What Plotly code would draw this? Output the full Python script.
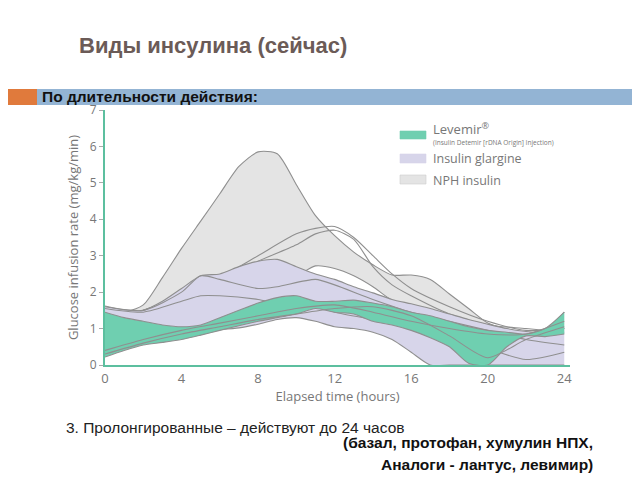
import plotly.graph_objects as go

# ---------------- data ----------------
hours = list(range(0, 25))

nph_upper = [1.40, 1.45, 1.65, 2.40, 3.20, 3.95, 4.70, 5.45, 5.85, 5.80, 4.95, 4.10, 3.55,
             3.10, 2.75, 2.47, 2.47, 2.35, 1.95, 1.55, 1.15, 0.98, 0.88, 0.95, 1.45]
nph_lower = [1.30, 1.35, 1.45, 1.60, 1.80, 2.00, 2.20, 2.35, 2.40, 2.40, 2.45, 2.72, 2.65,
             2.45, 2.15, 1.78, 1.65, 1.50, 1.35, 1.20, 1.05, 0.95, 0.85, 0.85, 1.00]

glargine_upper = [1.62, 1.52, 1.50, 1.75, 2.10, 2.45, 2.50, 2.70, 2.85, 2.90, 2.70, 2.50, 2.35,
                  2.15, 1.98, 1.80, 1.68, 1.55, 1.40, 1.25, 1.12, 1.00, 0.92, 0.90, 1.00]
glargine_lower = [0.50, 0.60, 0.70, 0.80, 0.88, 0.93, 0.97, 1.02, 1.12, 1.25, 1.30, 1.20, 1.05,
                  1.00, 0.90, 0.70, 0.35, 0.00, 0.00, 0.00, 0.00, 0.00, 0.00, 0.00, 0.00]

levemir_upper = [1.45, 1.30, 1.20, 1.10, 1.05, 1.10, 1.30, 1.50, 1.70, 1.85, 1.90, 1.75, 1.75,
                 1.78, 1.70, 1.60, 1.45, 1.35, 1.20, 1.05, 0.95, 0.90, 0.85, 1.00, 1.45]
levemir_lower = [0.22, 0.40, 0.55, 0.62, 0.70, 0.82, 0.95, 1.08, 1.20, 1.30, 1.40, 1.55, 1.45,
                 1.40, 1.20, 1.10, 0.95, 0.75, 0.50, 0.05, 0.00, 0.50, 0.80, 0.78, 0.85]

# individual subject curves inside the bands
nph_curve_h = [2, 4, 6, 8, 10, 11, 12, 13, 14, 15, 16, 18, 20, 22, 24]
nph_curve_1 = [1.5, 1.9, 2.4, 3.0, 3.6, 3.75, 3.8, 3.5, 3.0, 2.5, 2.1, 1.6, 1.2, 0.95, 1.0]
nph_curve_2 = [1.5, 1.85, 2.35, 2.85, 3.3, 3.6, 3.7, 3.45, 2.7, 2.2, 1.9, 1.4, 1.1, 1.0, 0.9]

gla_curve_h = [0, 2, 4, 5, 6, 8, 9, 11, 12, 14, 16, 18, 20, 22, 24]
gla_curve_1 = [1.6, 1.5, 2.0, 2.45, 2.35, 2.1, 2.15, 2.35, 2.2, 1.8, 1.45, 1.2, 0.95, 0.7, 0.55]
gla_curve_2 = [1.55, 1.45, 1.75, 1.9, 1.9, 1.8, 1.7, 1.6, 1.45, 1.25, 1.05, 0.8, 0.45, 0.15, 0.35]

lev_curve_h = [0, 2, 4, 6, 8, 10, 12, 14, 16, 18, 20, 22, 24]
lev_curve_1 = [0.40, 0.70, 0.95, 1.15, 1.35, 1.55, 1.65, 1.45, 1.20, 1.00, 0.85, 0.85, 1.20]
lev_curve_2 = [0.30, 0.60, 0.85, 1.05, 1.25, 1.40, 1.55, 1.60, 1.35, 0.80, 0.20, 0.70, 1.05]

x_ticks = [0, 4, 8, 12, 16, 20, 24]
y_ticks = [0, 1, 2, 3, 4, 5, 6, 7]

legend_labels = ["Levemir<sup>®</sup>", "Insulin glargine", "NPH insulin"]
legend_sub = "(Insulin Detemir [rDNA Origin] Injection)"

# ---------------- styles ----------------
C_NPH = "#e4e4e4"
C_GLA = "#d7d5ea"
C_LEV = "#6fcfb0"
C_LINE = "#8f8f8f"
C_AXIS = "#5cbf9f"
C_TXT = "#777777"

W, H = 640, 480
OFF = 8  # page body margin of the browser
ML, MT = 105 - OFF, 110 - OFF
MR, MB = W - (570 - OFF), H - (365 - OFF)
PW, PH = W - ML - MR, H - MT - MB


def px(xp):
    return (xp - OFF - ML) / PW


def py(yp):
    return (H - MB - (yp - OFF)) / PH


fig = go.Figure()

line_kw = dict(color=C_LINE, width=1.1, shape="spline", smoothing=0.7)


def band(lower, upper, color):
    fig.add_trace(go.Scatter(x=hours, y=lower, mode="lines", line=line_kw,
                             hoverinfo="skip", showlegend=False))
    fig.add_trace(go.Scatter(x=hours, y=upper, mode="lines", line=line_kw,
                             fill="tonexty", fillcolor=color,
                             hoverinfo="skip", showlegend=False))


def curve(xs, ys):
    fig.add_trace(go.Scatter(x=xs, y=ys, mode="lines", line=line_kw,
                             hoverinfo="skip", showlegend=False))


band(nph_lower, nph_upper, C_NPH)
curve(nph_curve_h, nph_curve_1)
curve(nph_curve_h, nph_curve_2)
band(glargine_lower, glargine_upper, C_GLA)
curve(gla_curve_h, gla_curve_1)
curve(gla_curve_h, gla_curve_2)
band(levemir_lower, levemir_upper, C_LEV)
curve(lev_curve_h, lev_curve_1)
curve(lev_curve_h, lev_curve_2)

fig.update_xaxes(range=[0, 24.3], tickvals=x_ticks, ticktext=[str(v) for v in x_ticks],
                 showgrid=False, zeroline=False, showline=True, linecolor=C_AXIS, linewidth=2,
                 ticks="", tickfont=dict(family="Open Sans", size=13, color=C_TXT),
                 title=dict(text="Elapsed time (hours)", standoff=3,
                            font=dict(family="Open Sans", size=13, color=C_TXT)))
fig.update_yaxes(range=[0, 7], tickvals=y_ticks, ticktext=[str(v) for v in y_ticks],
                 showgrid=False, zeroline=False, showline=True, linecolor=C_AXIS, linewidth=2,
                 ticks="outside", ticklen=4, tickcolor="#aaaaaa",
                 tickfont=dict(family="Open Sans", size=12, color=C_TXT),
                 title=dict(text="Glucose infusion rate (mg/kg/min)", standoff=8,
                            font=dict(family="Open Sans", size=13, color=C_TXT)))

shapes = [
    # header bar
    dict(type="rect", xref="paper", yref="paper", x0=px(0), x1=px(37), y0=py(105), y1=py(89),
         fillcolor="#e07a3c", line=dict(width=0), layer="above"),
    dict(type="rect", xref="paper", yref="paper", x0=px(37), x1=px(660), y0=py(105), y1=py(89),
         fillcolor="#93b4d4", line=dict(width=0), layer="above"),
]
sw_colors = [C_LEV, C_GLA, C_NPH]
sw_y = [(131, 139), (154, 163), (175, 184)]
for c, (a, b) in zip(sw_colors, sw_y):
    shapes.append(dict(type="rect", xref="paper", yref="paper", x0=px(400), x1=px(426),
                       y0=py(b), y1=py(a), fillcolor=c,
                       line=dict(width=0.6, color="#cccccc" if c == C_NPH else c)))

annotations = [
    dict(text="<b>Виды инсулина (сейчас)</b>", xref="paper", yref="paper", x=px(77), y=py(45),
         xanchor="left", yanchor="middle", showarrow=False,
         font=dict(family="Liberation Sans", size=22, color="#6b5b57")),
    dict(text="<b>По длительности действия:</b>", xref="paper", yref="paper", x=px(40), y=py(97),
         xanchor="left", yanchor="middle", showarrow=False,
         font=dict(family="Liberation Sans", size=15.5, color="#111111")),
    dict(text=legend_labels[0], xref="paper", yref="paper", x=px(431), y=py(129),
         xanchor="left", yanchor="middle", showarrow=False,
         font=dict(family="Open Sans", size=13, color=C_TXT)),
    dict(text=legend_sub, xref="paper", yref="paper", x=px(431), y=py(142),
         xanchor="left", yanchor="middle", showarrow=False,
         font=dict(family="Open Sans", size=6.5, color=C_TXT)),
    dict(text=legend_labels[1], xref="paper", yref="paper", x=px(431), y=py(158),
         xanchor="left", yanchor="middle", showarrow=False,
         font=dict(family="Open Sans", size=12.5, color=C_TXT)),
    dict(text=legend_labels[2], xref="paper", yref="paper", x=px(431), y=py(180),
         xanchor="left", yanchor="middle", showarrow=False,
         font=dict(family="Open Sans", size=12.5, color=C_TXT)),
    dict(text="3. Пролонгированные – действуют до 24 часов", xref="paper", yref="paper",
         x=px(64), y=py(427), xanchor="left", yanchor="middle", showarrow=False,
         font=dict(family="Liberation Sans", size=15.5, color="#222222")),
    dict(text="<b>(базал, протофан, хумулин НПХ,</b>", xref="paper", yref="paper",
         x=px(595), y=py(442), xanchor="right", yanchor="middle", showarrow=False,
         font=dict(family="Liberation Sans", size=15.5, color="#111111")),
    dict(text="<b>Аналоги - лантус, левимир)</b>", xref="paper", yref="paper",
         x=px(595), y=py(464), xanchor="right", yanchor="middle", showarrow=False,
         font=dict(family="Liberation Sans", size=15.5, color="#111111")),
]

fig.update_layout(width=W, height=H, margin=dict(l=ML, r=MR, t=MT, b=MB),
                  paper_bgcolor="white", plot_bgcolor="white",
                  showlegend=False, shapes=shapes, annotations=annotations)

fig.write_html("out.html")
